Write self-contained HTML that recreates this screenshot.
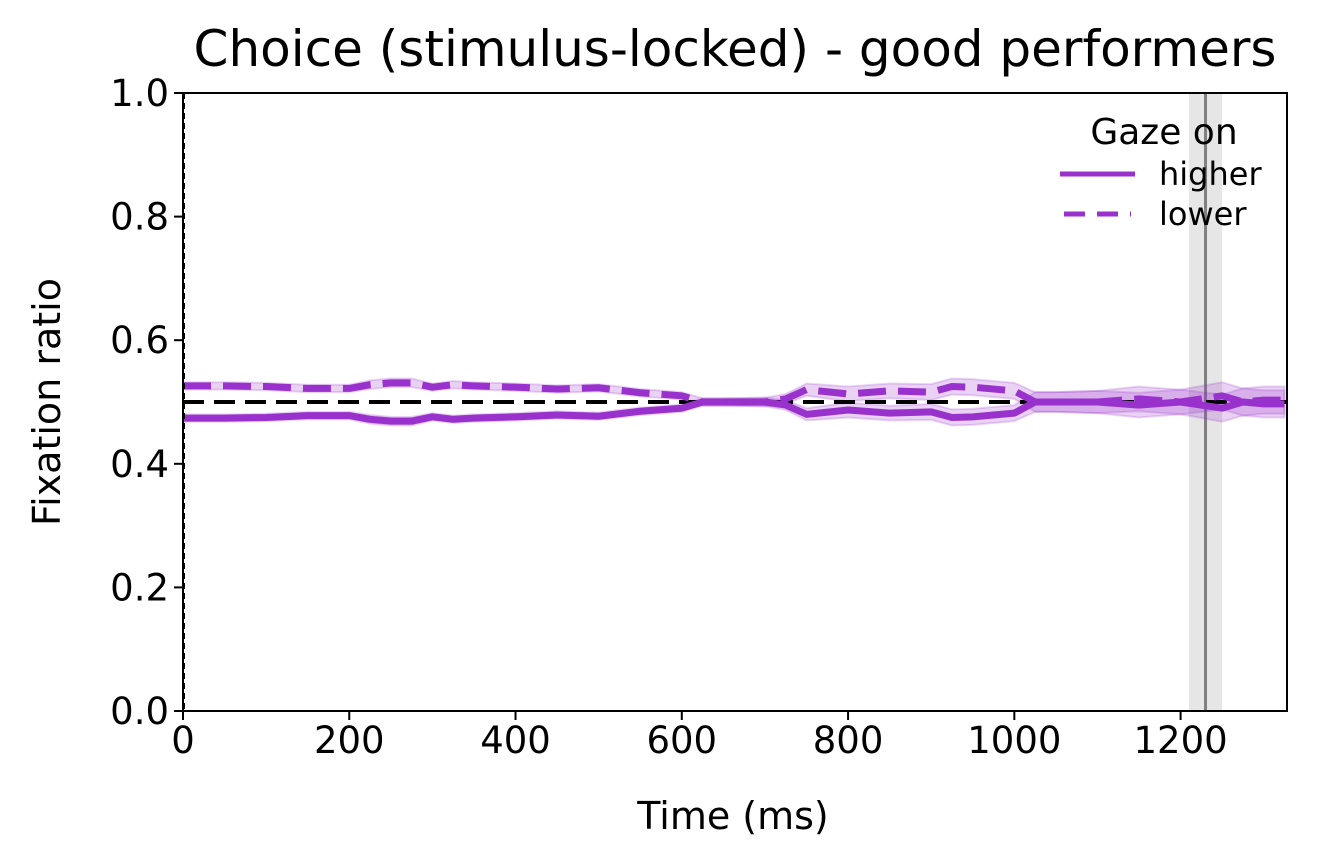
<!DOCTYPE html>
<html><head><meta charset="utf-8"><style>
html,body{margin:0;padding:0;background:#fff;}
svg{display:block;font-family:"DejaVu Sans","Liberation Sans",sans-serif;}
</style></head><body>
<svg id="chart" width="1317" height="867" xmlns="http://www.w3.org/2000/svg">
<g id="plot"></g>
</svg>
<script>
const times = [0,50,100,150,200,225,250,275,300,325,350,400,450,500,550,600,625,650,700,725,750,800,850,900,925,950,1000,1025,1050,1100,1150,1200,1250,1275,1300,1325];
const higherVals = [.474,.474,.475,.478,.478,.472,.469,.469,.476,.472,.474,.476,.479,.477,.485,.49,.50,.50,.50,.495,.48,.487,.482,.484,.475,.476,.482,.50,.50,.50,.495,.50,.49,.50,.497,.497];
const lowerVals = [.526,.526,.525,.522,.522,.528,.531,.531,.524,.528,.526,.524,.521,.523,.515,.51,.50,.50,.50,.505,.52,.513,.518,.516,.525,.524,.518,.50,.50,.50,.505,.50,.51,.50,.503,.503];
const semVals = [.006,.006,.006,.006,.006,.007,.007,.007,.006,.006,.006,.006,.006,.006,.006,.006,.006,.006,.007,.008,.01,.012,.012,.013,.013,.013,.013,.016,.016,.018,.02,.02,.022,.022,.022,.022];
const xTicks = [0,200,400,600,800,1000,1200];
const yTicks = [0.0,0.2,0.4,0.6,0.8,1.0];
const rtMean = 1230, rtLo = 1210, rtHi = 1250;

const L=183,R=1287,T=93,B=711,XMAX=1328;
const xs=v=>L+(v/XMAX)*(R-L);
const ys=v=>B-v*(B-T);
const g=document.getElementById('plot');
const NS='http://www.w3.org/2000/svg';
function mk(tag,attrs,parent){const e=document.createElementNS(NS,tag);for(const k in attrs)e.setAttribute(k,attrs[k]);(parent||g).appendChild(e);return e;}

let e=mk('rect',{x:xs(rtLo),y:T,width:xs(rtHi)-xs(rtLo),height:B-T,fill:'#e6e6e6'});


e=mk('line',{x1:xs(rtMean),x2:xs(rtMean),y1:T,y2:B,stroke:'#808080','stroke-width':3});



function band(vals,name){
  let up=vals.map((v,i)=>xs(times[i])+','+ys(v+semVals[i]));
  let dn=vals.map((v,i)=>xs(times[i])+','+ys(v-semVals[i])).reverse();
  const p=mk('polygon',{points:up.concat(dn).join(' '),fill:'#9932cc','fill-opacity':0.22,stroke:'#9932cc','stroke-opacity':0.2,'stroke-width':2});
  
  
}
band(higherVals,'higher-error-band');
band(lowerVals,'lower-error-band');
e=mk('line',{x1:L,x2:R,y1:ys(0.5),y2:ys(0.5),stroke:'#000','stroke-width':4,'stroke-dasharray':'21 10'});


function line(vals,name,dash){
  const p=mk('polyline',{points:vals.map((v,i)=>xs(times[i])+','+ys(v)).join(' '),fill:'none',stroke:'#9932cc','stroke-width':7,'stroke-linejoin':'round'});
  if(dash)p.setAttribute('stroke-dasharray','28 12');
  
  
}
line(higherVals,'higher-line',false);
line(lowerVals,'lower-line',true);
e=mk('line',{x1:L+1,x2:L+1,y1:T,y2:B,stroke:'#000','stroke-width':2,'stroke-dasharray':'6 4'});


e=mk('rect',{x:L,y:T,width:R-L,height:B-T,fill:'none',stroke:'#000','stroke-width':2});


xTicks.forEach(t=>{
  const x=xs(t);
  const tk=mk('line',{x1:x,x2:x,y1:B,y2:B+9,stroke:'#000','stroke-width':2});
  
  
  const tx=mk('text',{x:x,y:B+42,'text-anchor':'middle','font-size':'37px'});
  tx.textContent=t;
  
  
});
yTicks.forEach(t=>{
  const y=ys(t);
  const tk=mk('line',{x1:L-9,x2:L,y1:y,y2:y,stroke:'#000','stroke-width':2});
  
  
  const tx=mk('text',{x:L-14,y:y+13,'text-anchor':'end','font-size':'37px'});
  tx.textContent=t.toFixed(1);
  
  
});
</script>
<svg style="position:absolute;left:0;top:0" width="1317" height="867" xmlns="http://www.w3.org/2000/svg">
<text x="735" y="66" text-anchor="middle" font-size="50px" font-family="DejaVu Sans, Liberation Sans, sans-serif">Choice (stimulus-locked) - good performers</text>
<text x="733" y="829" text-anchor="middle" font-size="38px" font-family="DejaVu Sans, Liberation Sans, sans-serif">Time (ms)</text>
<text transform="translate(60,402) rotate(-90)" text-anchor="middle" font-size="38px" font-family="DejaVu Sans, Liberation Sans, sans-serif">Fixation ratio</text>
<g font-family="DejaVu Sans, Liberation Sans, sans-serif">
<text x="1164" y="144" text-anchor="middle" font-size="36px">Gaze on</text>
<line x1="1060" x2="1135" y1="174" y2="174" stroke="#9932cc" stroke-width="5"/>
<text x="1159" y="185" font-size="32px">higher</text>
<line x1="1064" x2="1131" y1="214" y2="214" stroke="#9932cc" stroke-width="5" stroke-dasharray="21 12"/>
<text x="1159" y="225" font-size="32px">lower</text>
</g>
</svg>
</body></html>
